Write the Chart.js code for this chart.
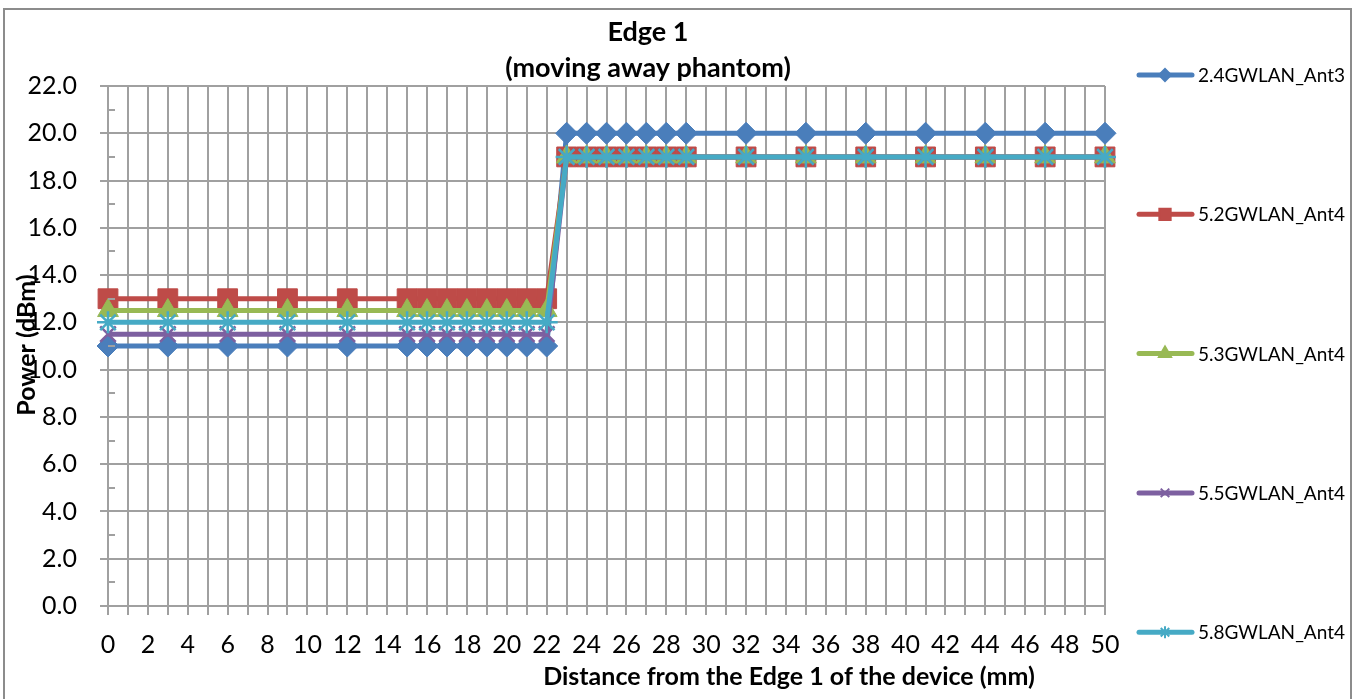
<!DOCTYPE html>
<html>
<head>
<meta charset="utf-8">
<script src="https://cdn.jsdelivr.net/npm/chart.js@4"></script>
<style>
  body { margin: 0; background: #fff; }
  #wrap { width: 1359px; height: 699px; }
</style>
</head>
<body>
<div id="wrap"><canvas id="edgeChart" width="1359" height="699"></canvas></div>
<script>
// distances (mm) where power was measured
const distance = [0, 3, 6, 9, 12, 15, 16, 17, 18, 19, 20, 21, 22, 23, 24, 25, 26, 27, 28, 29, 32, 35, 38, 41, 44, 47, 50];

// power (dBm) per band
const wlan24Ant3 = [11, 11, 11, 11, 11, 11, 11, 11, 11, 11, 11, 11, 11, 20, 20, 20, 20, 20, 20, 20, 20, 20, 20, 20, 20, 20, 20];
const wlan52Ant4 = [13, 13, 13, 13, 13, 13, 13, 13, 13, 13, 13, 13, 13, 19, 19, 19, 19, 19, 19, 19, 19, 19, 19, 19, 19, 19, 19];
const wlan53Ant4 = [12.5, 12.5, 12.5, 12.5, 12.5, 12.5, 12.5, 12.5, 12.5, 12.5, 12.5, 12.5, 12.5, 19, 19, 19, 19, 19, 19, 19, 19, 19, 19, 19, 19, 19, 19];
const wlan55Ant4 = [11.5, 11.5, 11.5, 11.5, 11.5, 11.5, 11.5, 11.5, 11.5, 11.5, 11.5, 11.5, 11.5, 19, 19, 19, 19, 19, 19, 19, 19, 19, 19, 19, 19, 19, 19];
const wlan58Ant4 = [12, 12, 12, 12, 12, 12, 12, 12, 12, 12, 12, 12, 12, 19, 19, 19, 19, 19, 19, 19, 19, 19, 19, 19, 19, 19, 19];

const seriesNames = ["2.4GWLAN_Ant3", "5.2GWLAN_Ant4", "5.3GWLAN_Ant4", "5.5GWLAN_Ant4", "5.8GWLAN_Ant4"];
const seriesValues = [wlan24Ant3, wlan52Ant4, wlan53Ant4, wlan55Ant4, wlan58Ant4];
const seriesColors = ["#4A7EBB", "#BE4B48", "#98B954", "#7D60A0", "#46AAC5"];
const seriesMarkers = ["rectRot", "rect", "triangle", "crossRot", "star"];
const markerSizes = [11, 14, 12, 11, 11];
const legendMarkerSizes = [6, 8, 7, 6, 6];

const yTicks = [0, 2, 4, 6, 8, 10, 12, 14, 16, 18, 20, 22];
const xTicks = [0, 2, 4, 6, 8, 10, 12, 14, 16, 18, 20, 22, 24, 26, 28, 30, 32, 34, 36, 38, 40, 42, 44, 46, 48, 50];

const chartTitle = ["Edge 1", "(moving away phantom)"];
const xTitle = "Distance from the Edge 1 of the device (mm)";
const yTitle = "Power (dBm)";

const FONT = "Lato";
const GRID = "#a0a0a0";

const datasets = seriesNames.map(function (name, i) {
    const isCross = seriesMarkers[i] === "crossRot" || seriesMarkers[i] === "star";
    return {
        label: name,
        data: distance.map((d, k) => ({ x: d, y: seriesValues[i][k] })),
        borderColor: seriesColors[i],
        backgroundColor: seriesColors[i],
        borderWidth: 5,
        pointStyle: seriesMarkers[i],
        pointRadius: markerSizes[i],
        pointHoverRadius: markerSizes[i],
        pointBorderWidth: isCross ? 2.5 : 1,
        tension: 0,
        clip: false,
        order: seriesNames.length - i
    };
});

// titles, legend, frame and minor ticks drawn by hand
const decorations = {
    id: "decorations",
    beforeDraw(chart) {
        const ctx = chart.ctx;
        ctx.save();
        ctx.fillStyle = "#fff";
        ctx.fillRect(0, 0, chart.width, chart.height);
        ctx.restore();
    },
    afterDraw(chart) {
        const ctx = chart.ctx;
        ctx.save();

        // frame
        ctx.strokeStyle = "#8c8c8c";
        ctx.lineWidth = 2;
        ctx.strokeRect(4, 9, 1347, 700);

        // minor y ticks (inside)
        const ys = chart.scales.y;
        ctx.strokeStyle = GRID;
        ctx.lineWidth = 2;
        for (let v = 1; v < 22; v += 2) {
            const py = Math.round(ys.getPixelForValue(v));
            ctx.beginPath();
            ctx.moveTo(ys.right, py);
            ctx.lineTo(ys.right + 7, py);
            ctx.stroke();
        }

        // chart title
        ctx.fillStyle = "#000";
        ctx.textAlign = "center";
        ctx.textBaseline = "middle";
        ctx.font = "bold 27px " + FONT;
        ctx.fillText(chartTitle[0], 648, 32);
        ctx.fillText(chartTitle[1], 648, 68);

        // axis titles
        ctx.font = "bold 25px " + FONT;
        ctx.fillText(xTitle, 789, 677);
        ctx.save();
        ctx.translate(27, 345);
        ctx.rotate(-Math.PI / 2);
        ctx.fillText(yTitle, 0, 0);
        ctx.restore();

        // legend
        ctx.textAlign = "left";
        ctx.font = "19px " + FONT;
        seriesNames.forEach(function (name, i) {
            const y = 75 + i * 139.3;
            ctx.strokeStyle = seriesColors[i];
            ctx.fillStyle = seriesColors[i];
            ctx.lineWidth = 5;
            ctx.lineCap = "round";
            ctx.beginPath();
            ctx.moveTo(1139, y);
            ctx.lineTo(1192, y);
            ctx.stroke();
            ctx.lineCap = "butt";
            ctx.lineWidth = 2;
            Chart.helpers.drawPoint(ctx, {
                pointStyle: seriesMarkers[i],
                radius: legendMarkerSizes[i],
                rotation: 0,
                borderWidth: 2
            }, 1165, y);
            ctx.fillStyle = "#000";
            ctx.fillText(name, 1198, y + 1);
        });

        ctx.restore();
    }
};

const ctx = document.getElementById("edgeChart").getContext("2d");
new Chart(ctx, {
    type: "line",
    data: { datasets: datasets },
    plugins: [decorations],
    options: {
        responsive: false,
        animation: false,
        devicePixelRatio: 1,
        layout: { padding: { left: 0, right: 254, top: 86, bottom: 0 } },
        plugins: {
            legend: { display: false },
            title: { display: false },
            tooltip: { enabled: false }
        },
        scales: {
            x: {
                type: "linear",
                min: 0,
                max: 50,
                afterFit(scale) { scale.height = 93; },
                afterBuildTicks(scale) {
                    scale.ticks = Array.from({ length: 51 }, (_, v) => ({ value: v }));
                },
                grid: { color: GRID, lineWidth: 2, tickLength: 9, tickColor: GRID },
                border: { color: GRID, width: 2 },
                ticks: {
                    autoSkip: false,
                    maxRotation: 0,
                    padding: 15,
                    color: "#000",
                    font: { family: FONT, size: 25 },
                    callback: (v) => xTicks.includes(v) ? String(v) : ""
                }
            },
            y: {
                min: 0,
                max: 22,
                afterFit(scale) { scale.width = 108; },
                afterBuildTicks(scale) {
                    scale.ticks = Array.from({ length: 23 }, (_, v) => ({ value: v }));
                },
                grid: {
                    lineWidth: 2,
                    tickLength: 8,
                    color: (c) => yTicks.includes(c.tick.value) ? GRID : "rgba(0,0,0,0)",
                    tickColor: (c) => yTicks.includes(c.tick.value) ? GRID : "rgba(0,0,0,0)"
                },
                border: { color: GRID, width: 2 },
                ticks: {
                    autoSkip: false,
                    padding: 23,
                    color: "#000",
                    font: { family: FONT, size: 25 },
                    callback: (v) => yTicks.includes(v) ? v.toFixed(1) : ""
                }
            }
        }
    }
});
</script>
</body>
</html>
